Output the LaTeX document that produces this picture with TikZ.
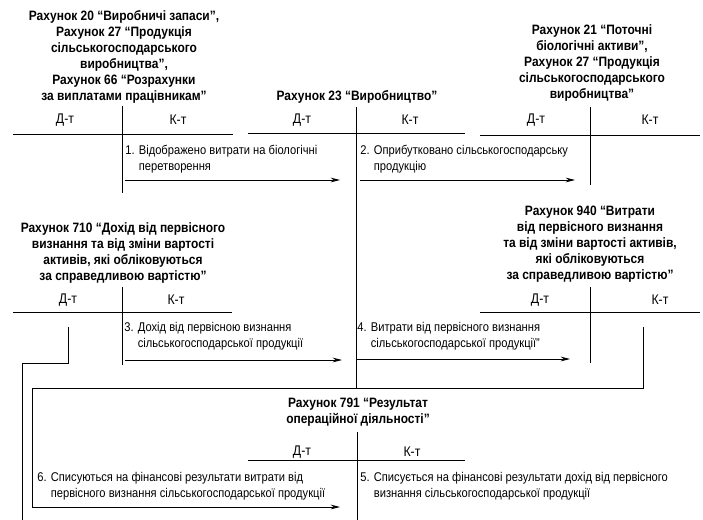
\documentclass[tikz,border=0pt]{standalone}
\usepackage{fontspec}
\setmainfont{Liberation Sans}[FakeStretch=0.88]
\usetikzlibrary{arrows.meta,positioning,calc}

\begin{document}
\begin{tikzpicture}[
  x=0.75pt, y=-0.75pt,
  ttl/.style={align=center, font=\bfseries\fontsize{10.2}{12}\selectfont, inner sep=0pt},
  dk/.style={font=\fontsize{10.5}{12}\selectfont, inner sep=0pt},
  op/.style={anchor=north west, inner sep=0pt, font=\fontsize{9.5}{12.5}\selectfont},
  >={Stealth[length=7pt,width=3.5pt]}, line width=0.7pt
]
  \useasboundingbox (0,0) rectangle (703,520);

  % account titles
  \node[ttl] (t20)  at (124,57)  {Рахунок 20 “Виробничі запаси”,\\Рахунок 27 “Продукція\\сільськогосподарського\\виробництва”,\\Рахунок 66 “Розрахунки\\за виплатами працівникам”};
  \node[ttl] (t23)  at (357,97)  {Рахунок 23 “Виробництво”};
  \node[ttl] (t21)  at (592,63)  {Рахунок 21 “Поточні\\біологічні активи”,\\Рахунок 27 “Продукція\\сільськогосподарського\\виробництва”};
  \node[ttl] (t710) at (123,253) {Рахунок 710 “Дохід від первісного\\визнання та від зміни вартості\\активів, які обліковуються\\за справедливою вартістю”};
  \node[ttl] (t940) at (590,244) {Рахунок 940 “Витрати\\від первісного визнання\\та від зміни вартості активів,\\які обліковуються\\за справедливою вартістю”};
  \node[ttl] (t791) at (358,412) {Рахунок 791 “Результат\\операційної діяльності”};

  % debit / credit heads
  \node[dk] (d20)  at (65,120)  {Д-т};  \node[dk] (k20)  at (178,120) {К-т};
  \node[dk] (d23)  at (302,120) {Д-т};  \node[dk] (k23)  at (410,120) {К-т};
  \node[dk] (d21)  at (536,120) {Д-т};  \node[dk] (k21)  at (650,120) {К-т};
  \node[dk] (d710) at (68,300)  {Д-т};  \node[dk] (k710) at (176,300) {К-т};
  \node[dk] (d940) at (540,300) {Д-т};  \node[dk] (k940) at (660,300) {К-т};
  \node[dk] (d791) at (302,452) {Д-т};  \node[dk] (k791) at (412,452) {К-т};

  % T lines
  \draw (13,134) -- (233,134)  (122,106) -- (122,193);
  \draw (248,133) -- (465,133) (356,107) -- (356,388);
  \draw (480,135) -- (700,135) (590,107) -- (590,185);
  \draw (13,312) -- (232,312)  (122,287) -- (122,365);
  \draw (480,312) -- (700,312) (590,287) -- (590,363);
  \draw (248,460) -- (465,460) (357,432) -- (357,520);

  % entries
  \node[op] (o1) at (125,142) {\begin{tabular}{@{}l@{ }l@{}}1.&Відображено витрати на біологічні\\&перетворення\end{tabular}};
  \node[op] (o2) at (360,142) {\begin{tabular}{@{}l@{ }l@{}}2.&Оприбутковано сільськогосподарську\\&продукцію\end{tabular}};
  \node[op] (o3) at (124,319) {\begin{tabular}{@{}l@{ }l@{}}3.&Дохід від первісною визнання\\&сільськогосподарської продукції\end{tabular}};
  \node[op] (o4) at (357,319) {\begin{tabular}{@{}l@{ }l@{}}4.&Витрати від первісного визнання\\&сільськогосподарської продукції”\end{tabular}};
  \node[op] (o5) at (360,469) {\begin{tabular}{@{}l@{ }l@{}}5.&Списується на фінансові результати дохід від первісного\\&визнання сільськогосподарської продукції\end{tabular}};
  \node[op] (o6) at (37,469)  {\begin{tabular}{@{}l@{ }l@{}}6.&Списуються на фінансові результати витрати від\\&первісного визнання сільськогосподарської продукції\end{tabular}};

  % flows
  \coordinate (s1) at (125,180); \coordinate (e1) at (340,180);
  \coordinate (s2) at (360,180); \coordinate (e2) at (575,180);
  \coordinate (s3) at (125,360); \coordinate (e3) at (342,360);
  \coordinate (s4) at (357,359); \coordinate (e4) at (570,359);
  \coordinate (s5) at (68,327);  \coordinate (e5) at (22,520);
  \coordinate (s6) at (643,327); \coordinate (e6) at (340,507);

  \draw[->] (s1) -- (e1);
  \draw[->] (s2) -- (e2);
  \draw[->] (s3) -- (e3);
  \draw[->] (s4) -- (e4);
  \draw (s5) -- ++(0,36) -| (e5);
  \draw[->] (s6) -- ++(0,61) -- ++(-611,0) |- (e6);
\end{tikzpicture}
\end{document}
